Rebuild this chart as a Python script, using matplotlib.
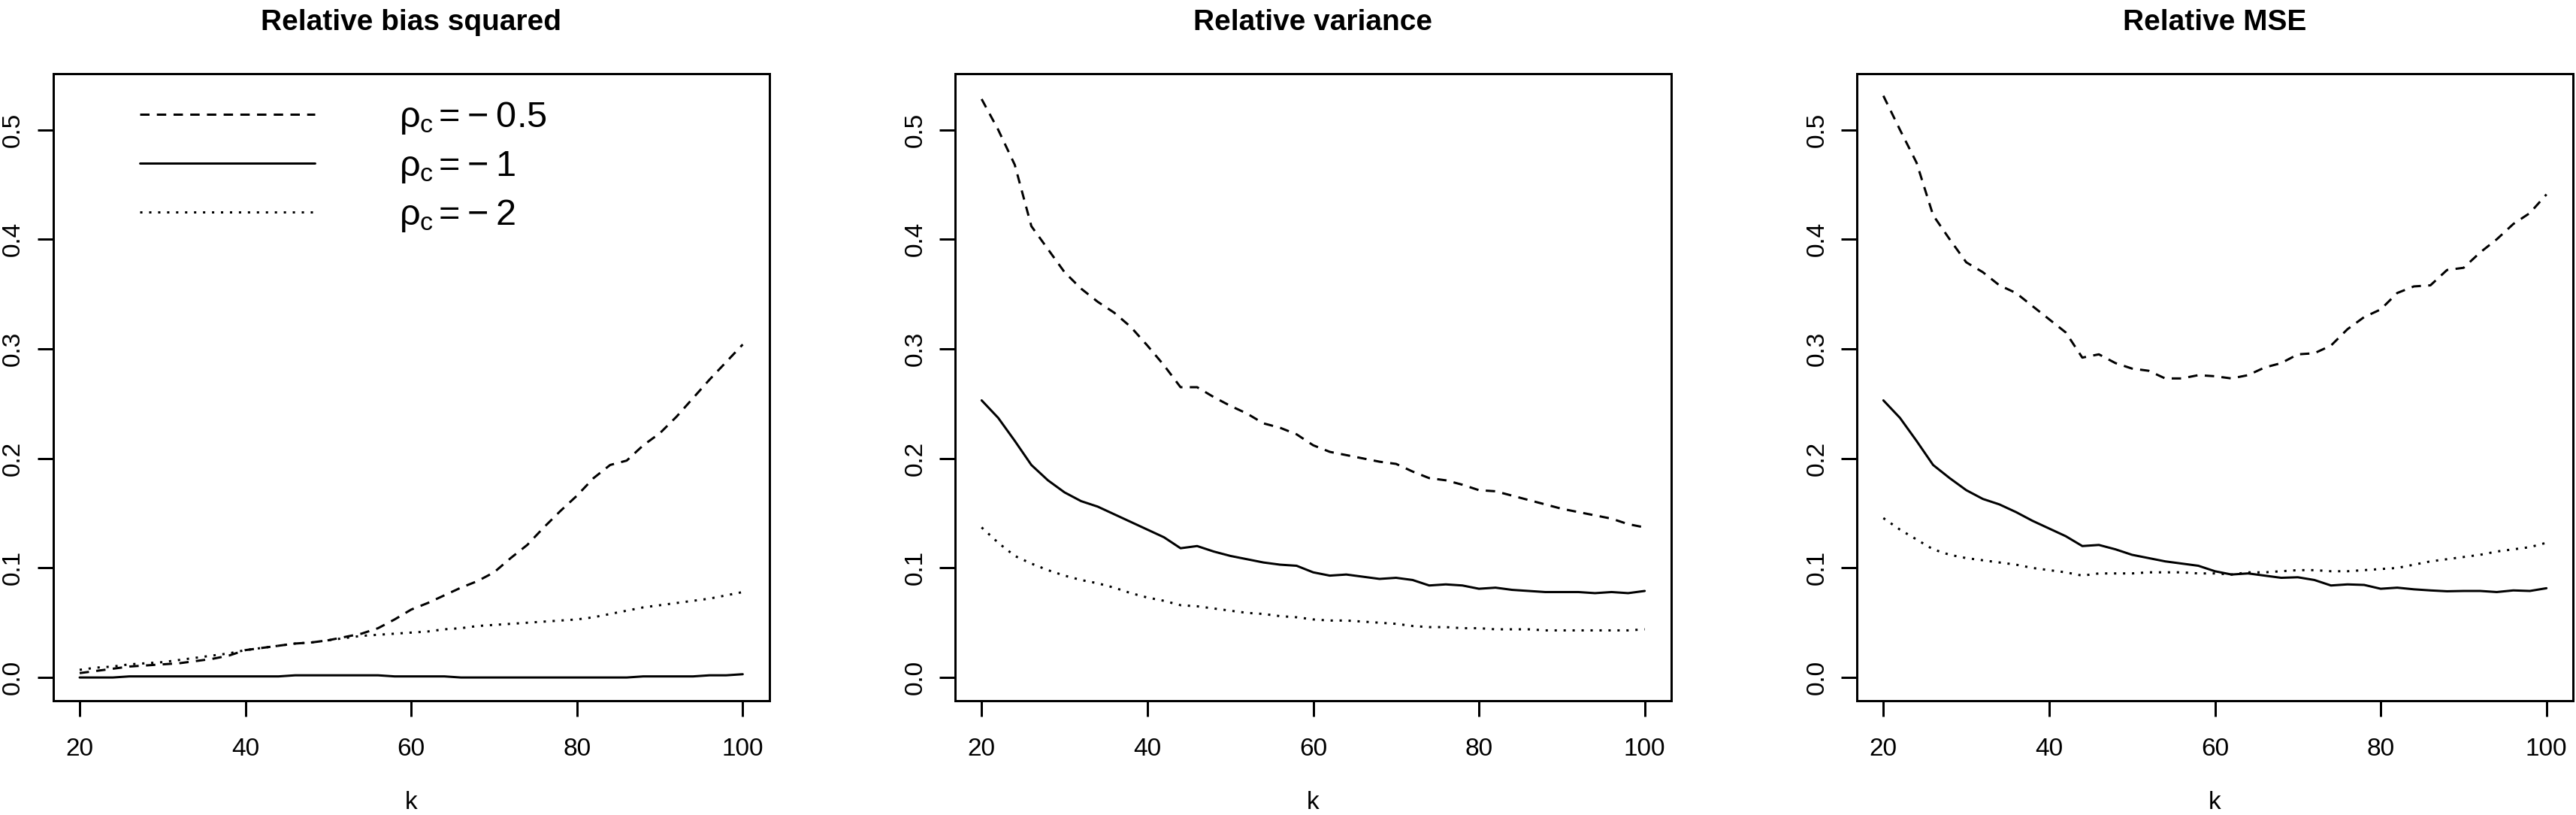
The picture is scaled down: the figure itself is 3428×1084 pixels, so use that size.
import numpy as np
import matplotlib.pyplot as plt

plt.rcParams['font.family'] = 'Liberation Sans'
plt.rcParams['mathtext.fontset'] = 'custom'
plt.rcParams['mathtext.rm'] = 'Liberation Sans'
plt.rcParams['mathtext.it'] = 'Liberation Sans'
plt.rcParams['mathtext.bf'] = 'Liberation Sans:bold'
plt.rcParams['lines.scale_dashes'] = False

# valores, k = 20, 22, ..., 100
k = np.arange(20, 101, 2)

bias_05 = [0.004, 0.006, 0.008, 0.010, 0.011, 0.012, 0.013, 0.015, 0.017, 0.020,
           0.025, 0.027, 0.029, 0.031, 0.032, 0.034, 0.037, 0.040, 0.045, 0.053,
           0.062, 0.068, 0.075, 0.082, 0.088, 0.096, 0.109, 0.121, 0.137, 0.152,
           0.166, 0.182, 0.194, 0.198, 0.212, 0.223, 0.238, 0.255, 0.272, 0.288,
           0.304]
bias_1 = [0.000, 0.000, 0.000, 0.001, 0.001, 0.001, 0.001, 0.001, 0.001, 0.001,
          0.001, 0.001, 0.001, 0.002, 0.002, 0.002, 0.002, 0.002, 0.002, 0.001,
          0.001, 0.001, 0.001, 0.000, 0.000, 0.000, 0.000, 0.000, 0.000, 0.000,
          0.000, 0.000, 0.000, 0.000, 0.001, 0.001, 0.001, 0.001, 0.002, 0.002,
          0.003]
bias_2 = [0.007, 0.009, 0.010, 0.012, 0.013, 0.014, 0.016, 0.018, 0.020, 0.022,
          0.025, 0.027, 0.029, 0.031, 0.032, 0.034, 0.036, 0.038, 0.039, 0.040,
          0.041, 0.042, 0.044, 0.045, 0.047, 0.048, 0.049, 0.050, 0.051, 0.052,
          0.053, 0.055, 0.058, 0.061, 0.064, 0.066, 0.068, 0.070, 0.072, 0.075,
          0.078]

var_05 = [0.528, 0.500, 0.468, 0.412, 0.391, 0.370, 0.355, 0.343, 0.333, 0.320,
          0.303, 0.285, 0.265, 0.265, 0.256, 0.248, 0.241, 0.232, 0.228, 0.222,
          0.212, 0.206, 0.203, 0.200, 0.197, 0.195, 0.188, 0.182, 0.180, 0.176,
          0.171, 0.170, 0.166, 0.162, 0.158, 0.154, 0.151, 0.148, 0.145, 0.140,
          0.137]
var_1 = [0.253, 0.237, 0.216, 0.194, 0.180, 0.169, 0.161, 0.156, 0.149, 0.142,
         0.135, 0.128, 0.118, 0.120, 0.115, 0.111, 0.108, 0.105, 0.103, 0.102,
         0.096, 0.093, 0.094, 0.092, 0.090, 0.091, 0.089, 0.084, 0.085, 0.084,
         0.081, 0.082, 0.080, 0.079, 0.078, 0.078, 0.078, 0.077, 0.078, 0.077,
         0.079]
var_2 = [0.137, 0.123, 0.111, 0.104, 0.098, 0.093, 0.089, 0.086, 0.082, 0.077,
         0.073, 0.070, 0.066, 0.065, 0.063, 0.061, 0.059, 0.058, 0.056, 0.055,
         0.053, 0.052, 0.052, 0.051, 0.050, 0.049, 0.047, 0.046, 0.046, 0.045,
         0.045, 0.044, 0.044, 0.044, 0.043, 0.043, 0.043, 0.043, 0.043, 0.043,
         0.044]

mse_05 = [0.531, 0.500, 0.470, 0.422, 0.400, 0.379, 0.370, 0.358, 0.351, 0.339,
          0.327, 0.315, 0.292, 0.295, 0.287, 0.282, 0.280, 0.273, 0.273, 0.276,
          0.275, 0.273, 0.276, 0.283, 0.287, 0.295, 0.296, 0.303, 0.318, 0.329,
          0.336, 0.351, 0.357, 0.358, 0.372, 0.374, 0.388, 0.400, 0.414, 0.424,
          0.441]
mse_1 = [0.253, 0.237, 0.216, 0.194, 0.182, 0.171, 0.163, 0.158, 0.151, 0.143,
         0.136, 0.129, 0.120, 0.121, 0.117, 0.112, 0.109, 0.106, 0.104, 0.102,
         0.097, 0.094, 0.095, 0.093, 0.091, 0.0915, 0.089, 0.084, 0.085, 0.0845,
         0.081, 0.082, 0.0805, 0.0795, 0.0787, 0.079, 0.079, 0.078, 0.0795, 0.079,
         0.0815]
mse_2 = [0.1455, 0.135, 0.126, 0.117, 0.112, 0.109, 0.107, 0.105, 0.103, 0.100,
         0.098, 0.096, 0.093, 0.095, 0.095, 0.095, 0.096, 0.096, 0.096, 0.095,
         0.095, 0.094, 0.096, 0.096, 0.097, 0.098, 0.098, 0.097, 0.097, 0.098,
         0.099, 0.100, 0.103, 0.106, 0.108, 0.110, 0.112, 0.115, 0.117, 0.119,
         0.123]

titulos = ['Relative bias squared', 'Relative variance', 'Relative MSE']
series = [(bias_05, bias_1, bias_2), (var_05, var_1, var_2), (mse_05, mse_1, mse_2)]
rotulos = ['$\\rho_{c}\\,$=\u2009\u2212\u20090.5', '$\\rho_{c}\\,$=\u2009\u2212\u20091',
           '$\\rho_{c}\\,$=\u2009\u2212\u20092']
estilos = [(0, (9, 7)), '-', (0, (2.2, 6.4))]

fig = plt.figure(figsize=(34.28, 10.84), dpi=100)
esquerdas = [70.7, 1271, 2471]
lw = 2.16

for i in range(3):
    ax = fig.add_axes([esquerdas[i] / 3428, 152 / 1084, 953 / 3428, 834 / 1084])
    linhas = []
    for y, ls in zip(series[i], estilos):
        l, = ax.plot(k, y, color='black', lw=lw, linestyle=ls,
                     dash_capstyle='butt', solid_capstyle='round')
        linhas.append(l)
    ax.set_xlim(16.8, 103.2)
    ax.set_ylim(-0.0212, 0.5512)
    ax.set_xticks([20, 40, 60, 80, 100])
    ax.set_yticks([0.0, 0.1, 0.2, 0.3, 0.4, 0.5])
    ax.set_yticklabels(['0.0', '0.1', '0.2', '0.3', '0.4', '0.5'])
    for s in ax.spines.values():
        s.set_linewidth(lw)
    ax.tick_params(length=15, width=lw, labelsize=24)
    ax.tick_params(axis='x', pad=20)
    ax.tick_params(axis='y', pad=12, labelrotation=90)
    for t in ax.get_yticklabels():
        t.set_va('center')
    ax.set_title(titulos[i], fontsize=28, fontweight='bold', pad=42)
    ax.set_xlabel('k', fontsize=24, labelpad=29)
    if i == 0:
        ax.legend(linhas, rotulos, loc='upper left', bbox_to_anchor=(0.121, 0.958),
                  frameon=False, fontsize=35, handlelength=4.8, handletextpad=2.3,
                  labelspacing=0.36, borderpad=0, borderaxespad=0)

fig.savefig('out.png', dpi=100)
